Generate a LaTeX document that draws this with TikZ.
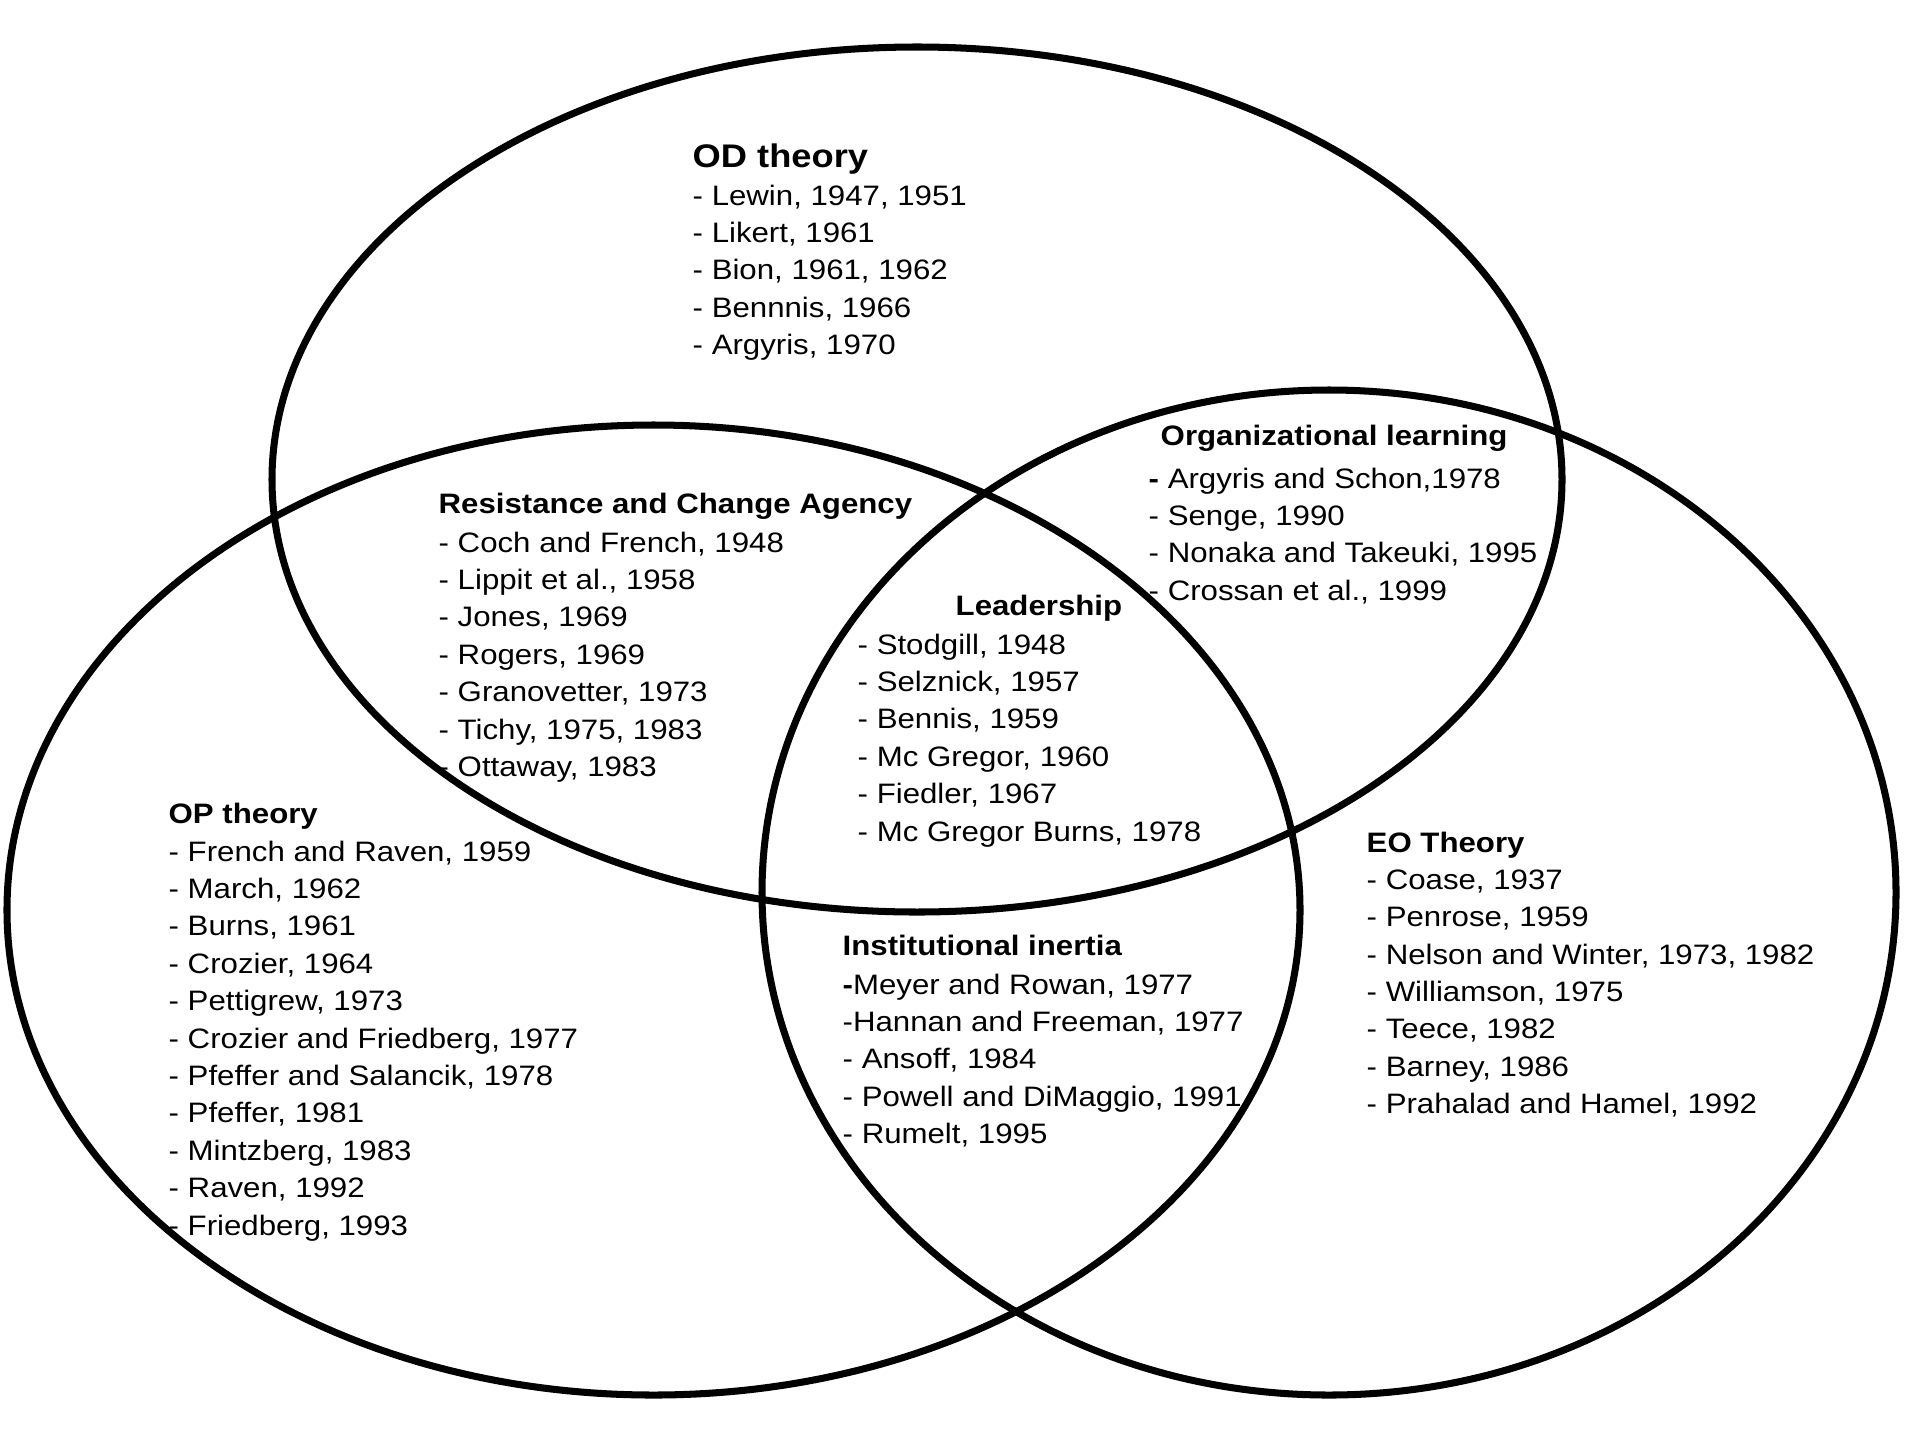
\documentclass[tikz,border=0pt]{standalone}
\usepackage{fontspec}
\newfontfamily\vennfont[FakeStretch=1.11]{Liberation Sans}
\usepackage{tikz}
\tikzset{
  vennring/.style={draw=black, line width=2pt},
  headtext/.style={anchor=base west, inner sep=0pt, font=\vennfont\bfseries\fontsize{8}{10.64}\selectfont},
  reftext/.style={anchor=north west, inner sep=0pt, align=left, font=\vennfont\fontsize{8}{10.64}\selectfont}
}

\begin{document}
\begin{tikzpicture}
  \useasboundingbox (0,0) rectangle (19.2,-14.4);

  % The three theories
  \draw[vennring] (9.17,-4.795) ellipse [x radius=6.45, y radius=4.325];
  \draw[vennring] (6.535,-9.10) ellipse [x radius=6.465, y radius=4.85];
  \draw[vennring] (13.29,-8.925) ellipse [x radius=5.67, y radius=5.025];

  % OD theory
  \node[headtext, font=\vennfont\bfseries\fontsize{9.3}{11}\selectfont] (odhead) at (6.92,-1.67) {OD theory};
  \node[reftext] (odrefs) at (6.92,-1.84) {- Lewin, 1947, 1951\\- Likert, 1961\\- Bion, 1961, 1962\\- Bennnis, 1966\\- Argyris, 1970};

  % OD and OP overlap
  \node[headtext] (rchead) at (4.38,-5.13) {Resistance and Change Agency};
  \node[reftext] (rcrefs) at (4.38,-5.31) {- Coch and French, 1948\\- Lippit et al., 1958\\- Jones, 1969\\- Rogers, 1969\\- Granovetter, 1973\\- Tichy, 1975, 1983\\- Ottaway, 1983};

  % OD and EO overlap
  \node[headtext] (olhead) at (11.60,-4.45) {Organizational learning};
  \node[reftext] (olrefs) at (11.48,-4.67) {\textbf{-} Argyris and Schon,1978\\- Senge, 1990\\- Nonaka and Takeuki, 1995\\- Crossan et al., 1999};

  % centre
  \node[headtext] (ldhead) at (9.55,-6.15) {Leadership};
  \node[reftext] (ldrefs) at (8.57,-6.33) {- Stodgill, 1948\\- Selznick, 1957\\- Bennis, 1959\\- Mc Gregor, 1960\\- Fiedler, 1967\\- Mc Gregor Burns, 1978};

  % OP theory
  \node[headtext] (ophead) at (1.68,-8.23) {OP theory};
  \node[reftext] (oprefs) at (1.68,-8.40) {- French and Raven, 1959\\- March, 1962\\- Burns, 1961\\- Crozier, 1964\\- Pettigrew, 1973\\- Crozier and Friedberg, 1977\\- Pfeffer and Salancik, 1978\\- Pfeffer, 1981\\- Mintzberg, 1983\\- Raven, 1992\\- Friedberg, 1993};

  % OP and EO overlap
  \node[headtext] (iihead) at (8.42,-9.55) {Institutional inertia};
  \node[reftext] (iirefs) at (8.42,-9.73) {\textbf{-}Meyer and Rowan, 1977\\-Hannan and Freeman, 1977\\- Ansoff, 1984\\- Powell and DiMaggio, 1991\\- Rumelt, 1995};

  % EO theory
  \node[headtext] (eohead) at (13.66,-8.52) {EO Theory};
  \node[reftext] (eorefs) at (13.66,-8.69) {- Coase, 1937\\- Penrose, 1959\\- Nelson and Winter, 1973, 1982\\- Williamson, 1975\\- Teece, 1982\\- Barney, 1986\\- Prahalad and Hamel, 1992};
\end{tikzpicture}
\end{document}
